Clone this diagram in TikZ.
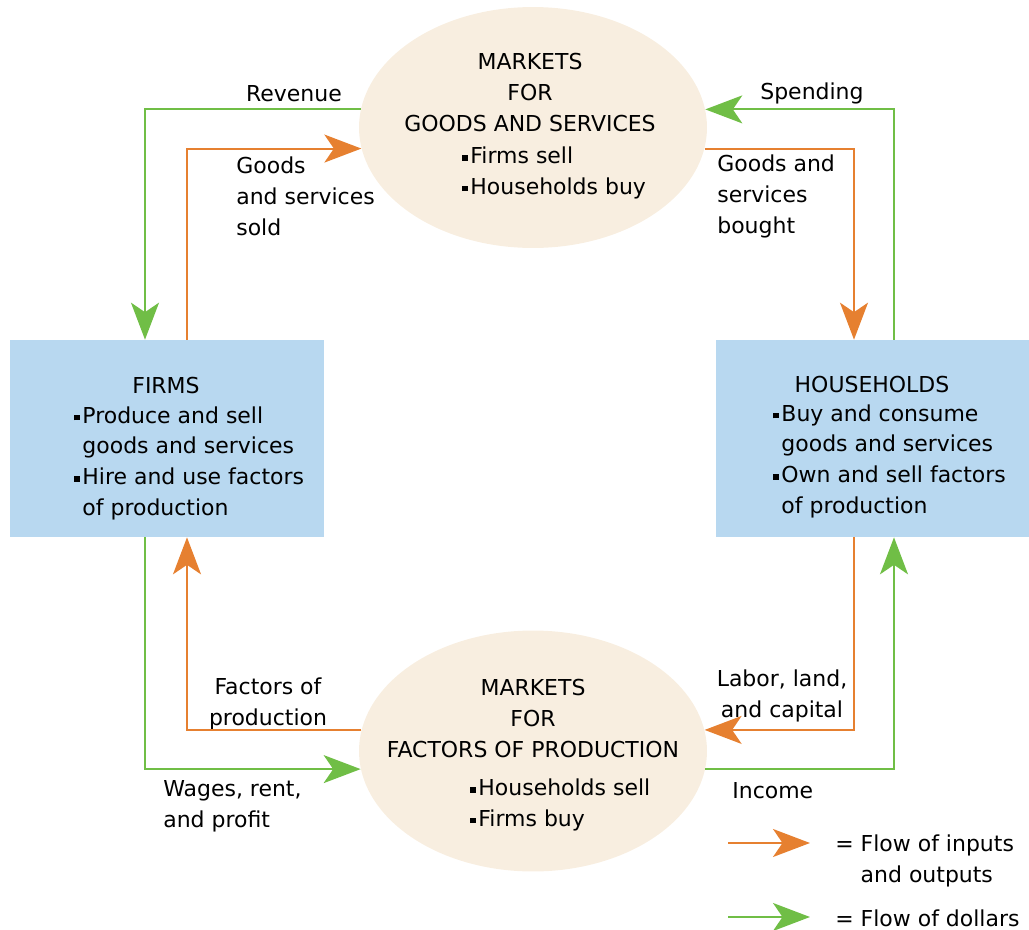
\documentclass[tikz,border=0pt]{standalone}
\usepackage{fontspec}
\setmainfont{DejaVu Sans}
\usepackage{tikz}
\usetikzlibrary{shapes.geometric, arrows.meta}

\definecolor{flowor}{RGB}{230,128,48}
\definecolor{flowgr}{RGB}{112,190,70}
\definecolor{boxblue}{RGB}{184,216,240}
\definecolor{ellbeige}{RGB}{248,238,224}

\newcommand{\sqbul}{\rule[1.6pt]{3pt}{3pt}\hspace{1.6pt}}
\newcommand{\sqind}{\hspace*{4.6pt}}

\tikzset{
  inout/.style={draw=flowor, line width=1.1pt, -{Stealth[length=7.4mm, width=5.6mm, inset=1.9mm]}},
  dollar/.style={draw=flowgr, line width=1.1pt, -{Stealth[length=7.4mm, width=5.6mm, inset=1.9mm]}},
  mkt/.style={shape=ellipse, fill=ellbeige, minimum width=6.96cm, minimum height=4.82cm, inner sep=0pt},
  sector/.style={shape=rectangle, fill=boxblue, minimum width=6.28cm, minimum height=3.94cm, inner sep=0pt},
  txt/.style={inner sep=0pt, anchor=base west, align=left}
}

\begin{document}
\begin{tikzpicture}[x=0.02cm, y=-0.02cm, font=\fontsize{12.5pt}{17.4pt}\selectfont]
            \useasboundingbox (0,0) rectangle (1029,930);

            \node[mkt](n1) at (533,127.5){};
            \node[sector](n2) at (872.5,438.5){};
            \node[mkt](n3) at (533,751){};
            \node[sector](n4) at (167,438.5){};

            % texts in the markets and sectors (base = last line)
            \node[txt, anchor=base, align=center](t1) at (530,131){MARKETS\\FOR\\GOODS AND SERVICES};
            \node[txt](t2) at (462,194){\sqbul Firms sell\\\sqbul Households buy};
            \node[txt, anchor=base](t3) at (872,392){HOUSEHOLDS};
            \node[txt](t4) at (773,513){\sqbul Buy and consume\\\sqind goods and services\\\sqbul Own and sell factors\\\sqind of production};
            \node[txt, anchor=base, align=center](t5) at (533,757){MARKETS\\FOR\\FACTORS OF PRODUCTION};
            \node[txt](t6) at (470,826){\sqbul Households sell\\\sqbul Firms buy};
            \node[txt, anchor=base](t7) at (166,393){FIRMS};
            \node[txt](t8) at (74,515){\sqbul Produce and sell\\\sqind goods and services\\\sqbul Hire and use factors\\\sqind of production};

            % flow labels
            \node[txt, anchor=base](l1) at (294,101){Revenue};
            \node[txt](l2) at (236,235){Goods\\and services\\sold};
            \node[txt](l3) at (760,99){Spending};
            \node[txt](l4) at (717,233){Goods and\\services\\bought};
            \node[txt, anchor=base, align=center](l5) at (268,725){Factors of\\production};
            \node[txt](l6) at (163,827){Wages, rent,\\and profit};
            \node[txt, anchor=base, align=center](l7) at (782,717){Labor, land,\\and capital};
            \node[txt](l8) at (732,798){Income};
            \node[txt](l9) at (835,882){= Flow of inputs\\\hphantom{=\ }and outputs};
            \node[txt](l10) at (835,926){= Flow of dollars};

            \coordinate (fg) at (145,0);
            \coordinate (fo) at (187,0);
            \coordinate (ho) at (854,0);
            \coordinate (hg) at (894,0);
            \coordinate (k1) at (728,843);
            \coordinate (k2) at (810,843);
            \coordinate (k3) at (728,917);
            \coordinate (k4) at (810,917);

            \draw[dollar](n1.174) -| (n4.north -| fg);
            \draw[inout](n4.north -| fo) |- (n1.187);
            \draw[dollar](n2.north -| hg) |- (n1.6);
            \draw[inout](n1.353) -| (n2.north -| ho);
            \draw[dollar](n4.south -| fg) |- (n3.186);
            \draw[inout](n3.173) -| (n4.south -| fo);
            \draw[inout](n2.south -| ho) |- (n3.7);
            \draw[dollar](n3.354) -| (n2.south -| hg);

            \draw[inout](k1) -- (k2);
            \draw[dollar](k3) -- (k4);
           \end{tikzpicture}
\end{document}
